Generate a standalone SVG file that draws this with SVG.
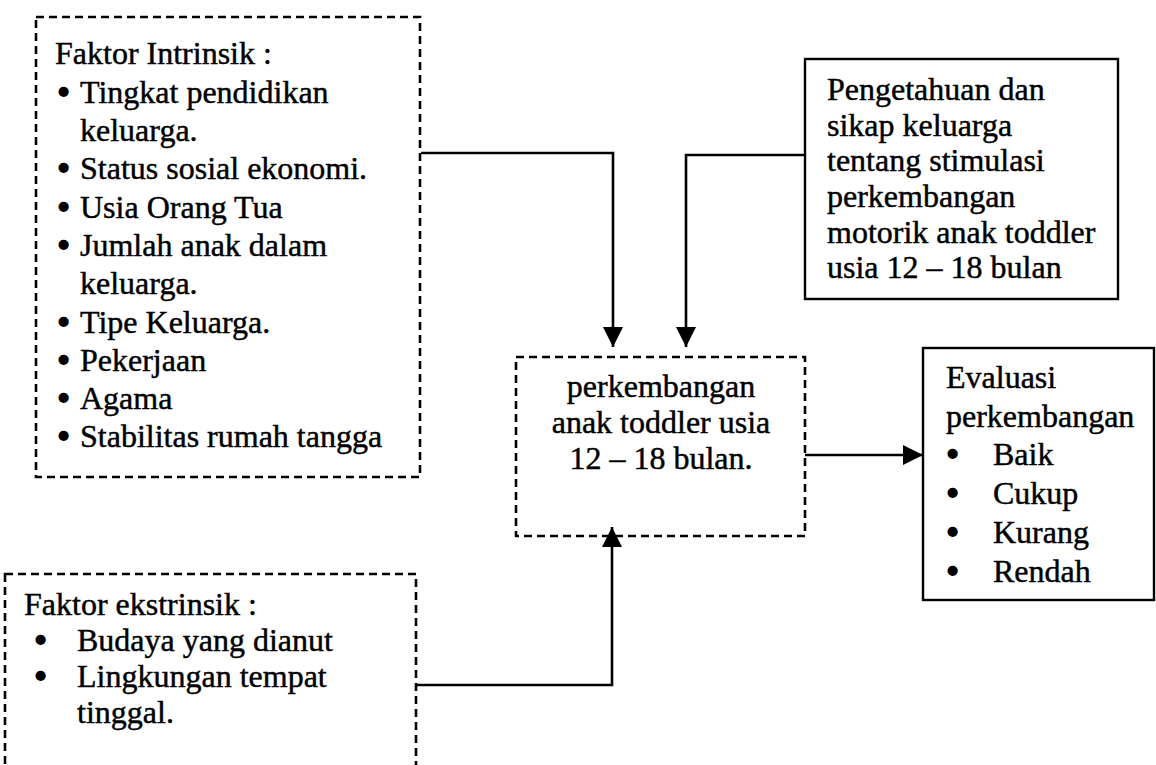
<svg xmlns="http://www.w3.org/2000/svg" width="1156" height="765" viewBox="0 0 1156 765">
<style>
text{font-family:"Liberation Serif","Times New Roman",serif;font-size:32px;fill:#000;stroke:#000;stroke-width:0.45}
.b{stroke-width:2.6;stroke-linejoin:round}
.dash{fill:none;stroke:#000;stroke-width:2.6;stroke-dasharray:8 5}
.solid{fill:none;stroke:#000;stroke-width:2.4}
.conn{fill:none;stroke:#000;stroke-width:2.6}
.mid{text-anchor:middle}
</style>
<defs>
<marker id="ah" markerUnits="userSpaceOnUse" markerWidth="20" markerHeight="20" refX="20" refY="10" orient="auto">
<path d="M0,0 L20,10 L0,20 z" fill="#000"/>
</marker>
</defs>
<rect width="1156" height="765" fill="#fff"/>
<g id="intrinsik">
<rect class="dash" x="36" y="17" width="384" height="460"/>
<text x="55" y="64">Faktor Intrinsik :</text>
<text class="b" x="58" y="102.5">•</text><text x="80" y="102.5">Tingkat pendidikan</text>
<text x="80" y="141">keluarga.</text>
<text class="b" x="58" y="179">•</text><text x="80" y="179">Status sosial ekonomi.</text>
<text class="b" x="58" y="217.5">•</text><text x="80" y="217.5">Usia Orang Tua</text>
<text class="b" x="58" y="256">•</text><text x="80" y="256">Jumlah anak dalam</text>
<text x="80" y="294">keluarga.</text>
<text class="b" x="58" y="332.5">•</text><text x="80" y="332.5">Tipe Keluarga.</text>
<text class="b" x="58" y="371">•</text><text x="80" y="371">Pekerjaan</text>
<text class="b" x="58" y="409">•</text><text x="80" y="409">Agama</text>
<text class="b" x="58" y="447">•</text><text x="80" y="447">Stabilitas rumah tangga</text>
</g>
<g id="pengetahuan">
<rect class="solid" x="805" y="59" width="313" height="240"/>
<text x="827" y="100">Pengetahuan dan</text>
<text x="827" y="135.5">sikap keluarga</text>
<text x="827" y="171">tentang  stimulasi</text>
<text x="827" y="207">perkembangan</text>
<text x="827" y="242.5">motorik anak toddler</text>
<text x="827" y="278">usia 12 – 18 bulan</text>
</g>
<g id="perkembangan">
<rect class="dash" x="516" y="357" width="289" height="179"/>
<text class="mid" x="661" y="397">perkembangan</text>
<text class="mid" x="661" y="433">anak toddler usia</text>
<text class="mid" x="661" y="469">12 – 18 bulan.</text>
</g>
<g id="evaluasi">
<rect class="solid" x="923" y="348" width="231" height="252"/>
<text x="946" y="388">Evaluasi</text>
<text x="946" y="427">perkembangan</text>
<text class="b" x="947" y="465">•</text><text x="993" y="465">Baik</text>
<text class="b" x="947" y="504">•</text><text x="993" y="504">Cukup</text>
<text class="b" x="947" y="543">•</text><text x="993" y="543">Kurang</text>
<text class="b" x="947" y="582">•</text><text x="993" y="582">Rendah</text>
</g>
<g id="ekstrinsik">
<rect class="dash" x="5" y="574" width="411" height="230"/>
<text x="24" y="615">Faktor ekstrinsik :</text>
<text class="b" x="35" y="651">•</text><text x="77" y="651">Budaya yang dianut</text>
<text class="b" x="35" y="687">•</text><text x="77" y="687">Lingkungan tempat</text>
<text x="77" y="723">tinggal.</text>
</g>
<g id="connectors">
<path class="conn" d="M421,153 H613 V347" marker-end="url(#ah)"/>
<path class="conn" d="M805,155 H686 V347" marker-end="url(#ah)"/>
<path class="conn" d="M417,685 H612 V527" marker-end="url(#ah)"/>
<path class="conn" d="M805,455 H923" marker-end="url(#ah)"/>
</g>
</svg>
